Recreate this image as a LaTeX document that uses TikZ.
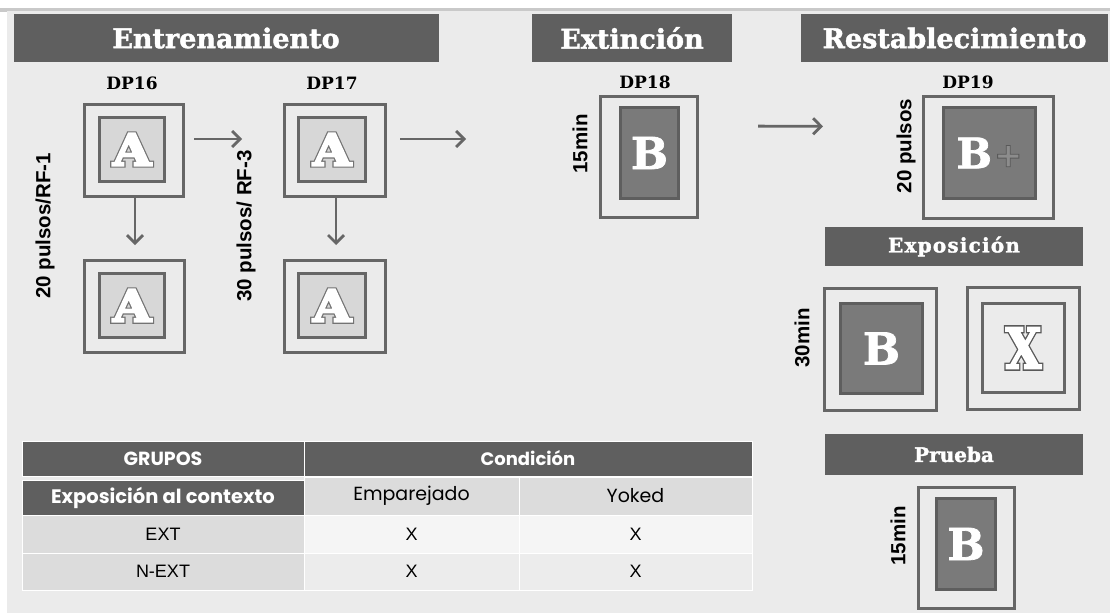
\documentclass[tikz,border=0pt]{standalone}
\usepackage{fontspec}
\usepackage{graphicx}
\usetikzlibrary{arrows.meta}
\newfontfamily\dvs{DejaVu Serif}
\newfontfamily\dvsT{DejaVu Serif Bold}[FakeBold=1.6]
\newfontfamily\dvsAo{DejaVu Serif Bold}[FakeBold=10]
\newfontfamily\dvsAi{DejaVu Serif Bold}[FakeBold=5]
\newfontfamily\dvsXo{DejaVu Serif Bold}[FakeBold=9]
\newfontfamily\dvsXi{DejaVu Serif Bold}[FakeBold=3.5]
\newfontfamily\dvsoutP{DejaVu Sans Bold}[FakeBold=2.5]
\newfontfamily\lib{Liberation Sans}
\newfontfamily\pop{Poppins}
\definecolor{bgc}{HTML}{EBEBEB}
\definecolor{topl}{HTML}{C9C9C9}
\definecolor{barc}{HTML}{5F5F5F}
\definecolor{boxc}{HTML}{666666}
\definecolor{lightin}{HTML}{D7D7D7}
\definecolor{darkin}{HTML}{7A7A7A}
\definecolor{darkb}{HTML}{5E5E5E}
\definecolor{arrc}{HTML}{666666}
\definecolor{cellA}{HTML}{DCDCDC}
\definecolor{cellB}{HTML}{F5F5F5}
\definecolor{cellC}{HTML}{ECECEC}
% fill colour from \color, outline (stroke) grey set directly
\newcommand{\outl}[3]{{\color{#2}\special{pdf:code #1 G}#3}}
% heavy white letter with a grey rim: #1 rim font, #2 letter font, #3 rim colour, #4 letter
\newcommand{\rimmed}[4]{\rlap{#1\color{#3}#4}{#2\color{white}#4}}
\newcommand{\letA}{\scalebox{1.12}[1]{\fontsize{44}{46}\selectfont\rimmed{\dvsAo}{\dvsAi}{black!55}{A}}}
\newcommand{\letB}{\textcolor{white}{B}}
\tikzset{
  bar/.style={fill=barc, inner sep=0pt, text=white},
  ttl/.style={font=\dvsT\fontsize{27}{30}\selectfont},
  sttl/.style={font=\dvsT\fontsize{20}{24}\selectfont},
  dplab/.style={font=\dvs\bfseries\fontsize{17}{19}\selectfont, text=black, inner sep=0pt},
  outerbox/.style={draw=boxc, line width=3pt, inner sep=0pt},
  innerA/.style={draw=boxc, line width=3pt, fill=lightin, inner sep=0pt},
  innerB/.style={draw=darkb, line width=3pt, fill=darkin, inner sep=0pt, font=\dvsT\fontsize{44}{48}\selectfont},
  innerX/.style={draw=boxc, line width=3pt, fill=bgc, inner sep=0pt},
  rotlab/.style={rotate=90, inner sep=0pt, font=\lib\bfseries\fontsize{20.5}{24}\selectfont},
  arr/.style={draw=arrc, line width=2.8pt, -{Straight Barb[length=8pt,width=16pt,line width=2.8pt]}},
  cell/.style={draw=white, line width=1pt, inner sep=0pt},
  hcell/.style={cell, fill=barc, text=white, font=\pop\bfseries\fontsize{18}{21}\selectfont},
  pcell/.style={cell, font=\pop\fontsize{19}{22}\selectfont},
  lcell/.style={cell, font=\lib\fontsize{18}{21}\selectfont},
}
\begin{document}
\begin{tikzpicture}[x=1pt,y=-1pt]
\useasboundingbox (0,0) rectangle (1110,613);
\fill[white] (0,0) rectangle (1110,613);
\fill[topl] (0,8) rectangle (1110,12);
\fill[bgc] (7,11) rectangle (1110,613);

% title bars
\node[bar, ttl, minimum width=425pt, minimum height=48pt] (tEnt) at (226,38) {Entrenamiento};
\node[bar, ttl, minimum width=200pt, minimum height=48pt] (tExt) at (632,38) {Extinción};
\node[bar, ttl, minimum width=307pt, minimum height=48pt] (tRes) at (954.5,38) {Restablecimiento};
\node[bar, sttl, minimum width=258pt, minimum height=39pt] (tExp) at (954,246.5) {\addfontfeature{LetterSpace=6}Exposición};
\node[bar, sttl, minimum width=258pt, minimum height=41pt] (tPru) at (954,454.5) {Prueba};

% DP labels
\node[dplab] (dp16) at (132,83) {DP16};
\node[dplab] (dp17) at (332,83) {DP17};
\node[dplab] (dp18) at (645,82) {DP18};
\node[dplab] (dp19) at (968,82) {DP19};

% Entrenamiento boxes
\node[outerbox, minimum width=99pt, minimum height=92pt] (o16) at (134,150.5) {};
\node[innerA, minimum width=65pt, minimum height=64pt] (i16) at (132,149.5) {\letA};
\node[outerbox, minimum width=100pt, minimum height=92pt] (o16b) at (134.5,306.5) {};
\node[innerA, minimum width=65pt, minimum height=64pt] (i16b) at (132,305.5) {\letA};
\node[outerbox, minimum width=101pt, minimum height=92pt] (o17) at (335,150.5) {};
\node[innerA, minimum width=67pt, minimum height=64pt] (i17) at (332,149.5) {\letA};
\node[outerbox, minimum width=101pt, minimum height=92pt] (o17b) at (335,306.5) {};
\node[innerA, minimum width=67pt, minimum height=64pt] (i17b) at (332,305.5) {\letA};

% Extincion
\node[outerbox, minimum width=97pt, minimum height=121pt] (o18) at (649,157) {};
\node[innerB, minimum width=58pt, minimum height=91pt] (i18) at (649.5,153) {\letB};

% Restablecimiento
\node[outerbox, minimum width=130pt, minimum height=122pt] (o19) at (988.5,157.5) {};
\node[innerB, minimum width=92pt, minimum height=91pt] (i19) at (989.5,153) {\fontsize{42}{46}\selectfont\letB\hspace{2pt}{\dvsoutP\fontsize{34}{36}\selectfont\raisebox{1.5pt}{\outl{0.35}{black!45}{+}}}};

% Exposicion
\node[outerbox, minimum width=112pt, minimum height=122pt] (oE1) at (880.5,349.5) {};
\node[innerB, minimum width=82pt, minimum height=90pt] (iE1) at (881.5,348.5) {\letB};
\node[outerbox, minimum width=112pt, minimum height=122pt] (oE2) at (1023.5,348.5) {};
\node[innerX, minimum width=82pt, minimum height=89pt] (iE2) at (1023.5,348) {\scalebox{0.82}[1]{\fontsize{56}{60}\selectfont\rimmed{\dvsXo}{\dvsXi}{black!65}{X}}};

% Prueba
\node[outerbox, minimum width=96pt, minimum height=121pt] (oP) at (966.5,548) {};
\node[innerB, minimum width=59pt, minimum height=91pt] (iP) at (966,544) {\letB};

% rotated labels
\node[rotlab] (l16) at (45,226) {20 pulsos/RF-1};
\node[rotlab] (l17) at (246,226) {30 pulsos/ RF-3};
\node[rotlab] (l18) at (580,144) {15min};
\node[rotlab] (l19) at (906,146) {20 pulsos};
\node[rotlab] (lE) at (802,338) {30min};
\node[rotlab] (lP) at (898,536) {15min};

% arrows
\coordinate (e17) at (466,139);
\draw[arr, shorten <=9pt, shorten >=41pt] ([yshift=11.5pt]o16.east) -- ([yshift=11.5pt]o17.west);
\draw[arr, shorten <=13pt] ([yshift=11.5pt]o17.east) -- (e17);
\draw[arr, shorten <=59pt, shorten >=99pt] ([yshift=31pt]o18.east) -- ([yshift=31pt]o19.west);
\draw[arr, shorten >=14pt] ([xshift=1pt]o16.south) -- ([xshift=0.5pt]o16b.north);
\draw[arr, shorten >=14pt] ([xshift=1pt]o17.south) -- ([xshift=1pt]o17b.north);

% table
\node[hcell, minimum width=282pt, minimum height=35pt] (cG) at (163,458.5) {\fontsize{19}{22}\selectfont GRUPOS};
\node[hcell, minimum width=448pt, minimum height=35pt] (cC) at (528,458.5) {Condición};
\node[hcell, minimum width=282pt, minimum height=35pt] (cE) at (163,497.5) {\fontsize{19.5}{22}\selectfont Exposición al contexto};
\node[pcell, fill=cellA, minimum width=215pt, minimum height=38pt] (cEm) at (411.5,496) {Emparejado};
\node[pcell, fill=cellA, minimum width=233pt, minimum height=38pt] (cY) at (635.5,496) {Yoked};
\node[lcell, fill=cellA, minimum width=282pt, minimum height=38pt] (cExt) at (163,534) {EXT};
\node[lcell, fill=cellB, minimum width=215pt, minimum height=38pt] (cX1) at (411.5,534) {X};
\node[lcell, fill=cellB, minimum width=233pt, minimum height=38pt] (cX2) at (635.5,534) {X};
\node[lcell, fill=cellA, minimum width=282pt, minimum height=37pt] (cN) at (163,571.5) {N-EXT};
\node[lcell, fill=cellC, minimum width=215pt, minimum height=37pt] (cX3) at (411.5,571.5) {X};
\node[lcell, fill=cellC, minimum width=233pt, minimum height=37pt] (cX4) at (635.5,571.5) {X};
\end{tikzpicture}
\end{document}
